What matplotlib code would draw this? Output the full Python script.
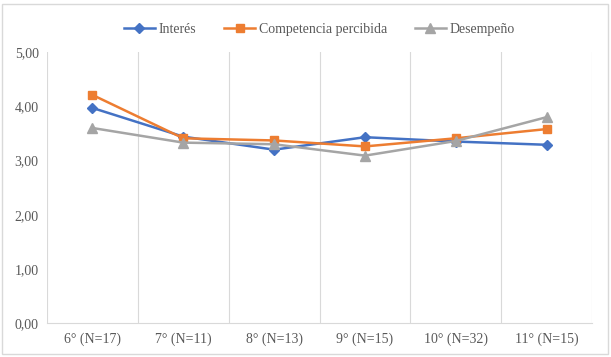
import numpy as np
import matplotlib
matplotlib.use("Agg")
import matplotlib.pyplot as plt
from matplotlib.patches import Rectangle

grades = ["6° (N=17)", "7° (N=11)", "8° (N=13)", "9° (N=15)", "10° (N=32)", "11° (N=15)"]
interes = [3.97, 3.44, 3.20, 3.43, 3.35, 3.29]
competencia = [4.21, 3.41, 3.37, 3.26, 3.41, 3.58]
desempeno = [3.60, 3.33, 3.30, 3.09, 3.36, 3.80]

plt.rcParams['font.family'] = ['Liberation Serif', 'DejaVu Serif']

fig = plt.figure(figsize=(6.11, 3.57), dpi=100)
ax = fig.add_axes([0.077, 0.095, 0.892, 0.759])

x = np.arange(len(grades))
ax.plot(x, interes, color="#4472C4", marker="D", markersize=5, lw=1.8, label="Interés")
ax.plot(x, competencia, color="#ED7D31", marker="s", markersize=6, lw=1.8, label="Competencia percibida")
ax.plot(x, desempeno, color="#A5A5A5", marker="^", markersize=6.5, lw=1.8, label="Desempeño")

ax.set_xlim(-0.5, len(grades) - 0.5)
ax.set_ylim(0, 5)
ax.set_yticks(np.arange(0, 5.01, 1))
ax.set_yticklabels([f"{v:.2f}".replace(".", ",") for v in np.arange(0, 5.01, 1)])
ax.set_xticks(x)
ax.set_xticklabels(grades)

# category boundary gridlines
for b in np.arange(-0.5, len(grades), 1):
    ax.axvline(b, color="#D9D9D9", lw=0.8, zorder=0)

for s in ["top", "right", "left"]:
    ax.spines[s].set_visible(False)
ax.spines["bottom"].set_color("#D9D9D9")
ax.tick_params(axis="both", length=0, colors="#595959", labelsize=10)
ax.tick_params(axis="x", pad=7)
ax.tick_params(axis="y", pad=6)

ax.legend(loc="lower center", bbox_to_anchor=(0.5, 1.015), ncol=3, frameon=False,
          fontsize=10, labelcolor="#595959", handlelength=2.2, columnspacing=2.0,
          handletextpad=0.3)

fig.patches.append(Rectangle((0.004, 0.008), 0.991, 0.982, transform=fig.transFigure,
                             fill=False, edgecolor="#D9D9D9", lw=1))

fig.savefig("out.png", dpi=100)
